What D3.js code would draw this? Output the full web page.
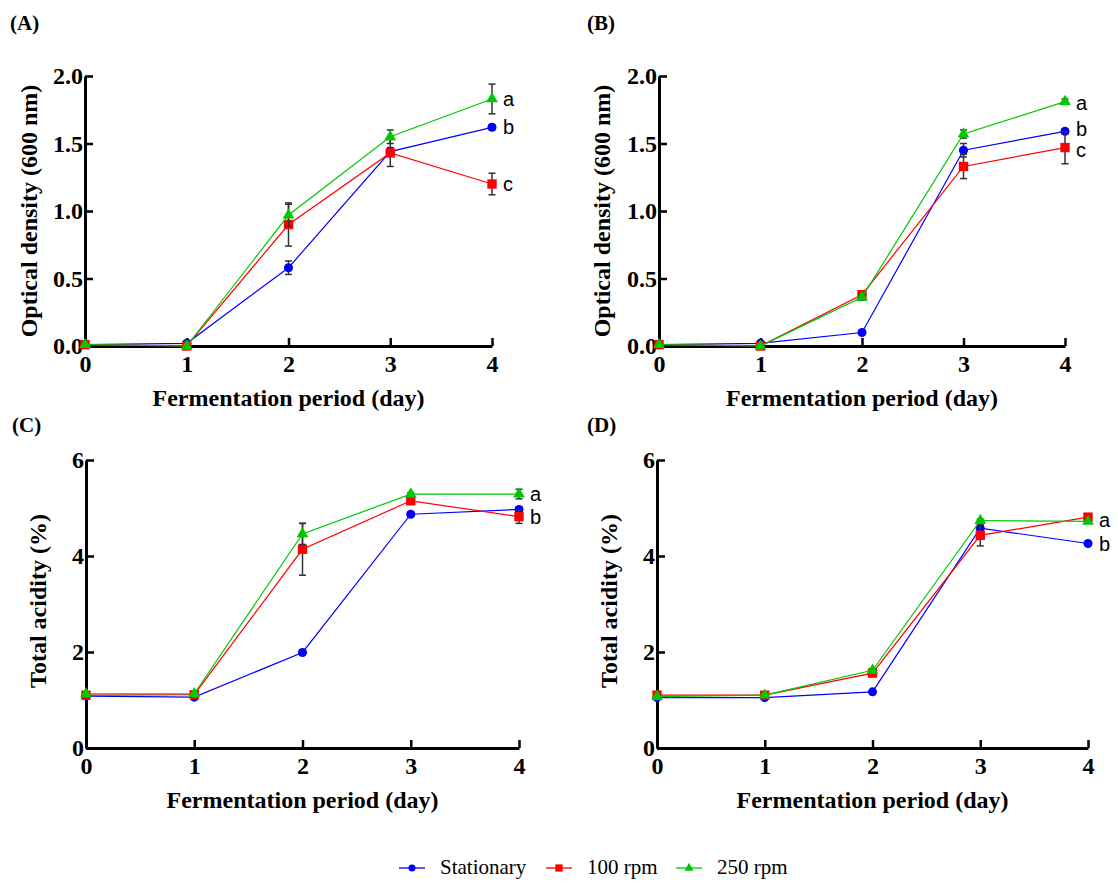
<!DOCTYPE html>
<html>
<head>
<meta charset="utf-8">
<script src="https://cdn.jsdelivr.net/npm/d3@7"></script>
<style>
  html, body { margin: 0; padding: 0; background: #fff; }
  svg { display: block; }
</style>
</head>
<body>
<svg id="chart" width="1118" height="883"></svg>
<script>
// ---------------- DATA ----------------
const days = [0, 1, 2, 3, 4];
const seriesNames = ["Stationary", "100 rpm", "250 rpm"];

// (A) Optical density (600 nm)
const odA_stationary     = [0.01, 0.02, 0.58, 1.44, 1.62];
const odA_stationary_err = [0, 0, 0.05, 0.03, 0.02];
const odA_rpm100         = [0.01, 0.00, 0.90, 1.43, 1.20];
const odA_rpm100_err     = [0, 0, 0.16, 0.10, 0.08];
const odA_rpm250         = [0.01, 0.00, 0.97, 1.55, 1.83];
const odA_rpm250_err     = [0, 0, 0.08, 0.05, 0.11];
const lettersA = ["a", "b", "c"];
const lettersA_at = [1.83, 1.62, 1.20];

// (B) Optical density (600 nm)
const odB_stationary     = [0.01, 0.02, 0.10, 1.45, 1.59];
const odB_stationary_err = [0, 0, 0, 0.05, 0.02];
const odB_rpm100         = [0.01, 0.00, 0.38, 1.33, 1.47];
const odB_rpm100_err     = [0, 0, 0.02, 0.09, 0.12];
const odB_rpm250         = [0.01, 0.00, 0.36, 1.57, 1.81];
const odB_rpm250_err     = [0, 0, 0.02, 0.03, 0.02];
const lettersB = ["a", "b", "c"];
const lettersB_at = [1.80, 1.61, 1.45];

// (C) Total acidity (%)
const taC_stationary     = [1.08, 1.06, 1.99, 4.87, 4.97];
const taC_stationary_err = [0, 0, 0.03, 0.05, 0.05];
const taC_rpm100         = [1.10, 1.11, 4.14, 5.15, 4.82];
const taC_rpm100_err     = [0, 0, 0.54, 0.05, 0.14];
const taC_rpm250         = [1.13, 1.13, 4.46, 5.29, 5.29];
const taC_rpm250_err     = [0, 0, 0.22, 0.03, 0.10];
const lettersC = ["a", "b"];
const lettersC_at = [5.29, 4.82];

// (D) Total acidity (%)
const taD_stationary     = [1.05, 1.05, 1.17, 4.58, 4.26];
const taD_stationary_err = [0, 0, 0.02, 0.05, 0.03];
const taD_rpm100         = [1.10, 1.10, 1.56, 4.43, 4.81];
const taD_rpm100_err     = [0, 0, 0.03, 0.22, 0.03];
const taD_rpm250         = [1.07, 1.10, 1.62, 4.74, 4.72];
const taD_rpm250_err     = [0, 0, 0.03, 0.03, 0.03];
const lettersD = ["a", "b"];
const lettersD_at = [4.75, 4.26];

const odTicks = [0, 0.5, 1.0, 1.5, 2.0];
const taTicks = [0, 2, 4, 6];
const xTicks = [0, 1, 2, 3, 4];

const xTitle = "Fermentation period (day)";
const odTitle = "Optical density (600 nm)";
const taTitle = "Total acidity (%)";

// ---------------- STYLE ----------------
const colors = ["#0000ff", "#ff0000", "#00c800"];
const markerTypes = [d3.symbolCircle, d3.symbolSquare, d3.symbolTriangle];
const markerSizes = [64, 88, 60];
const serif = "'Liberation Serif', 'Times New Roman', serif";
const sans = "'Liberation Sans', Arial, sans-serif";

const panels = [
  { tag: "(A)", tagX: 10, tagY: 30, x0: 85, x1: 492, yTop: 76, yBot: 346, ymax: 2, ticks: odTicks, fmt: d3.format(".1f"), title: odTitle, titleX: 37, titleY: 211,
    series: [[odA_stationary, odA_stationary_err], [odA_rpm100, odA_rpm100_err], [odA_rpm250, odA_rpm250_err]],
    letters: lettersA, lettersAt: lettersA_at },
  { tag: "(B)", tagX: 587, tagY: 30, x0: 659, x1: 1065, yTop: 76, yBot: 346, ymax: 2, ticks: odTicks, fmt: d3.format(".1f"), title: odTitle, titleX: 610, titleY: 211,
    series: [[odB_stationary, odB_stationary_err], [odB_rpm100, odB_rpm100_err], [odB_rpm250, odB_rpm250_err]],
    letters: lettersB, lettersAt: lettersB_at },
  { tag: "(C)", tagX: 12, tagY: 432, x0: 86, x1: 519, yTop: 460, yBot: 748, ymax: 6, ticks: taTicks, fmt: d3.format("d"), title: taTitle, titleX: 46, titleY: 601,
    series: [[taC_stationary, taC_stationary_err], [taC_rpm100, taC_rpm100_err], [taC_rpm250, taC_rpm250_err]],
    letters: lettersC, lettersAt: lettersC_at },
  { tag: "(D)", tagX: 587, tagY: 432, x0: 657, x1: 1088, yTop: 460, yBot: 748, ymax: 6, ticks: taTicks, fmt: d3.format("d"), title: taTitle, titleX: 617, titleY: 601,
    series: [[taD_stationary, taD_stationary_err], [taD_rpm100, taD_rpm100_err], [taD_rpm250, taD_rpm250_err]],
    letters: lettersD, lettersAt: lettersD_at }
];

const svg = d3.select("#chart");

panels.forEach(p => {
  const x = d3.scaleLinear().domain([0, 4]).range([p.x0, p.x1]);
  const y = d3.scaleLinear().domain([0, p.ymax]).range([p.yBot, p.yTop]);
  const g = svg.append("g");

  // panel tag
  svg.append("text").attr("x", p.tagX).attr("y", p.tagY)
    .attr("font-family", serif).attr("font-weight", "bold").attr("font-size", 21)
    .text(p.tag);

  // axes
  const yAxis = d3.axisLeft(y).tickValues(p.ticks).tickFormat(p.fmt)
    .tickSizeInner(-8).tickSizeOuter(0).tickPadding(2);
  const xAxis = d3.axisBottom(x).tickValues(xTicks).tickFormat(d3.format("d"))
    .tickSizeInner(-8).tickSizeOuter(0).tickPadding(9);

  const ya = g.append("g").attr("transform", `translate(${p.x0},0)`).call(yAxis);
  const xa = g.append("g").attr("transform", `translate(0,${p.yBot})`).call(xAxis);
  [ya, xa].forEach(a => {
    a.select(".domain").attr("stroke", "#000").attr("stroke-width", 3);
    a.selectAll(".tick line").attr("stroke", "#000").attr("stroke-width", 2.5);
    a.selectAll(".tick text").attr("fill", "#000")
      .attr("font-family", serif).attr("font-weight", "bold").attr("font-size", 24);
  });

  // axis titles
  g.append("text").attr("x", (p.x0 + p.x1) / 2).attr("y", p.yBot + 60)
    .attr("text-anchor", "middle").attr("font-family", serif).attr("font-weight", "bold")
    .attr("font-size", 24).text(xTitle);
  g.append("text").attr("transform", `translate(${p.titleX},${p.titleY}) rotate(-90)`)
    .attr("text-anchor", "middle").attr("font-family", serif).attr("font-weight", "bold")
    .attr("font-size", 24).text(p.title);

  // series
  const line = d3.line().x((d, i) => x(days[i])).y(d => y(d));
  p.series.forEach(([vals, errs], si) => {
    const sg = g.append("g");
    // error bars
    vals.forEach((v, i) => {
      const e = errs[i];
      if (!e) return;
      const cx = x(days[i]);
      const eb = sg.append("g").attr("stroke", "#333").attr("stroke-width", 1.5).attr("fill", "none");
      eb.append("line").attr("x1", cx).attr("x2", cx).attr("y1", y(v - e)).attr("y2", y(v + e));
      eb.append("line").attr("x1", cx - 3.5).attr("x2", cx + 3.5).attr("y1", y(v - e)).attr("y2", y(v - e));
      eb.append("line").attr("x1", cx - 3.5).attr("x2", cx + 3.5).attr("y1", y(v + e)).attr("y2", y(v + e));
    });
    sg.append("path").datum(vals).attr("d", line)
      .attr("fill", "none").attr("stroke", colors[si]).attr("stroke-width", 1.2);
    sg.selectAll("path.mk").data(vals).enter().append("path").attr("class", "mk")
      .attr("transform", (d, i) => `translate(${x(days[i])},${y(d)})`)
      .attr("d", d3.symbol().type(markerTypes[si]).size(markerSizes[si]))
      .attr("fill", colors[si]);
  });

  // significance letters
  p.letters.forEach((l, i) => {
    g.append("text").attr("x", x(4) + 11).attr("y", y(p.lettersAt[i]))
      .attr("dy", "0.35em").attr("font-family", sans).attr("font-size", 20)
      .text(l);
  });
});

// ---------------- LEGEND ----------------
const legendX = [399, 546, 676];
const legendY = 868;
const lg = svg.append("g");
seriesNames.forEach((name, i) => {
  const lx = legendX[i];
  lg.append("line").attr("x1", lx).attr("x2", lx + 26).attr("y1", legendY).attr("y2", legendY)
    .attr("stroke", colors[i]).attr("stroke-width", 1.3);
  lg.append("path").attr("transform", `translate(${lx + 13},${legendY})`)
    .attr("d", d3.symbol().type(markerTypes[i]).size(markerSizes[i] * 0.6)).attr("fill", colors[i]);
  lg.append("text").attr("x", lx + 41).attr("y", legendY + 6)
    .attr("font-family", serif).attr("font-size", 21).text(name);
});
</script>
</body>
</html>
